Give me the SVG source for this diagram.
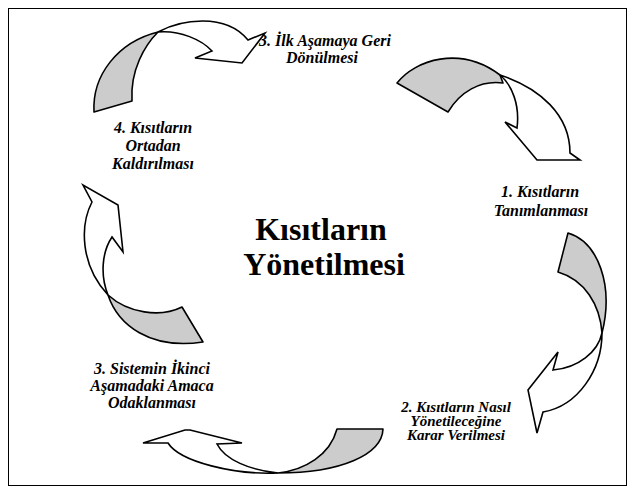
<svg xmlns="http://www.w3.org/2000/svg" width="634" height="493" viewBox="0 0 634 493">
<style>
.lbl{font-family:"Liberation Serif","Times New Roman",serif;font-size:16px;font-weight:bold;font-style:italic;fill:#000;text-anchor:middle}
.lbl2{font-family:"Liberation Serif","Times New Roman",serif;font-size:15px;font-weight:bold;font-style:italic;fill:#000;text-anchor:middle}
.title{font-family:"Liberation Serif","Times New Roman",serif;font-size:32px;font-weight:bold;fill:#000;text-anchor:middle}
.g{fill:#cccccc;stroke:#000;stroke-width:1.6;stroke-linejoin:round}
.w{fill:#fff;stroke:#000;stroke-width:1.6;stroke-linejoin:miter}
</style>
<rect x="0" y="0" width="634" height="493" fill="#fff"/>
<rect x="8.5" y="8.5" width="618" height="477" fill="none" stroke="#000" stroke-width="1"/>
<g id="title">
<text class="title" x="321" y="240">Kısıtların</text>
<text class="title" x="324" y="275">Yönetilmesi</text>
</g>
<g id="step1">
<text class="lbl" x="540" y="197">1. Kısıtların</text>
<text class="lbl" x="541" y="216">Tanımlanması</text>
</g>
<g id="step2">
<text class="lbl2" x="456" y="412">2. Kısıtların Nasıl</text>
<text class="lbl2" x="456" y="426">Yönetileceğine</text>
<text class="lbl2" x="456" y="440">Karar Verilmesi</text>
</g>
<g id="step3">
<text class="lbl" x="152" y="374">3. Sistemin İkinci</text>
<text class="lbl" x="152" y="391">Aşamadaki Amaca</text>
<text class="lbl" x="152" y="408">Odaklanması</text>
</g>
<g id="step4">
<text class="lbl" x="153" y="133">4. Kısıtların</text>
<text class="lbl" x="153" y="151">Ortadan</text>
<text class="lbl" x="153" y="169">Kaldırılması</text>
</g>
<g id="step5">
<text class="lbl" x="325" y="46">3. İlk Aşamaya Geri</text>
<text class="lbl" x="322" y="63">Dönülmesi</text>
</g>
<g id="connectors">
<g id="arrow-4-to-5">
<path class="g" d="M94,112 C92,75 118,42 158,32 C145,45 130,70 132,101 Z"/>
<path class="w" d="M158,32 C180,20 225,12 248,40 L265,33 L242,63 L195,58 L212,51 C202,40 180,30 158,32 Z"/>
</g>
<g id="arrow-5-to-1">
<path class="g" d="M397,83 C415,60 460,45 500,75 L503,83 C480,80 460,92 448,112 Z"/>
<path class="w" d="M500,75 C540,88 570,115 570,153 L580,160 L537,160 L505,122 L517,128 C520,105 512,85 500,75 Z"/>
</g>
<g id="arrow-1-to-2">
<path class="g" d="M568,233 C598,242 614,285 602,333 C600,305 585,280 558,272 Z"/>
<path class="w" d="M602,333 C598,352 578,368 553,370 L558,352 L528,390 L537,433 L543,412 C578,406 602,370 602,333 Z"/>
</g>
<g id="arrow-2-to-3">
<path class="g" d="M337,429 L383,429 C382,455 340,473 278,473 C305,470 330,455 337,429 Z"/>
<path class="w" d="M278,473 C235,475 180,462 168,443 L143,443 L185,430 L190,430 L242,443 L217,444 C225,460 250,470 278,473 Z"/>
</g>
<g id="arrow-3-to-4">
<path class="g" d="M203,342 L182,307 C160,318 128,313 108,295 C118,325 150,350 203,342 Z"/>
<path class="w" d="M108,295 C100,275 102,252 112,237 L123,252 L118,205 L83,185 L92,202 C80,225 80,265 108,295 Z"/>
</g>
</g>
</svg>
